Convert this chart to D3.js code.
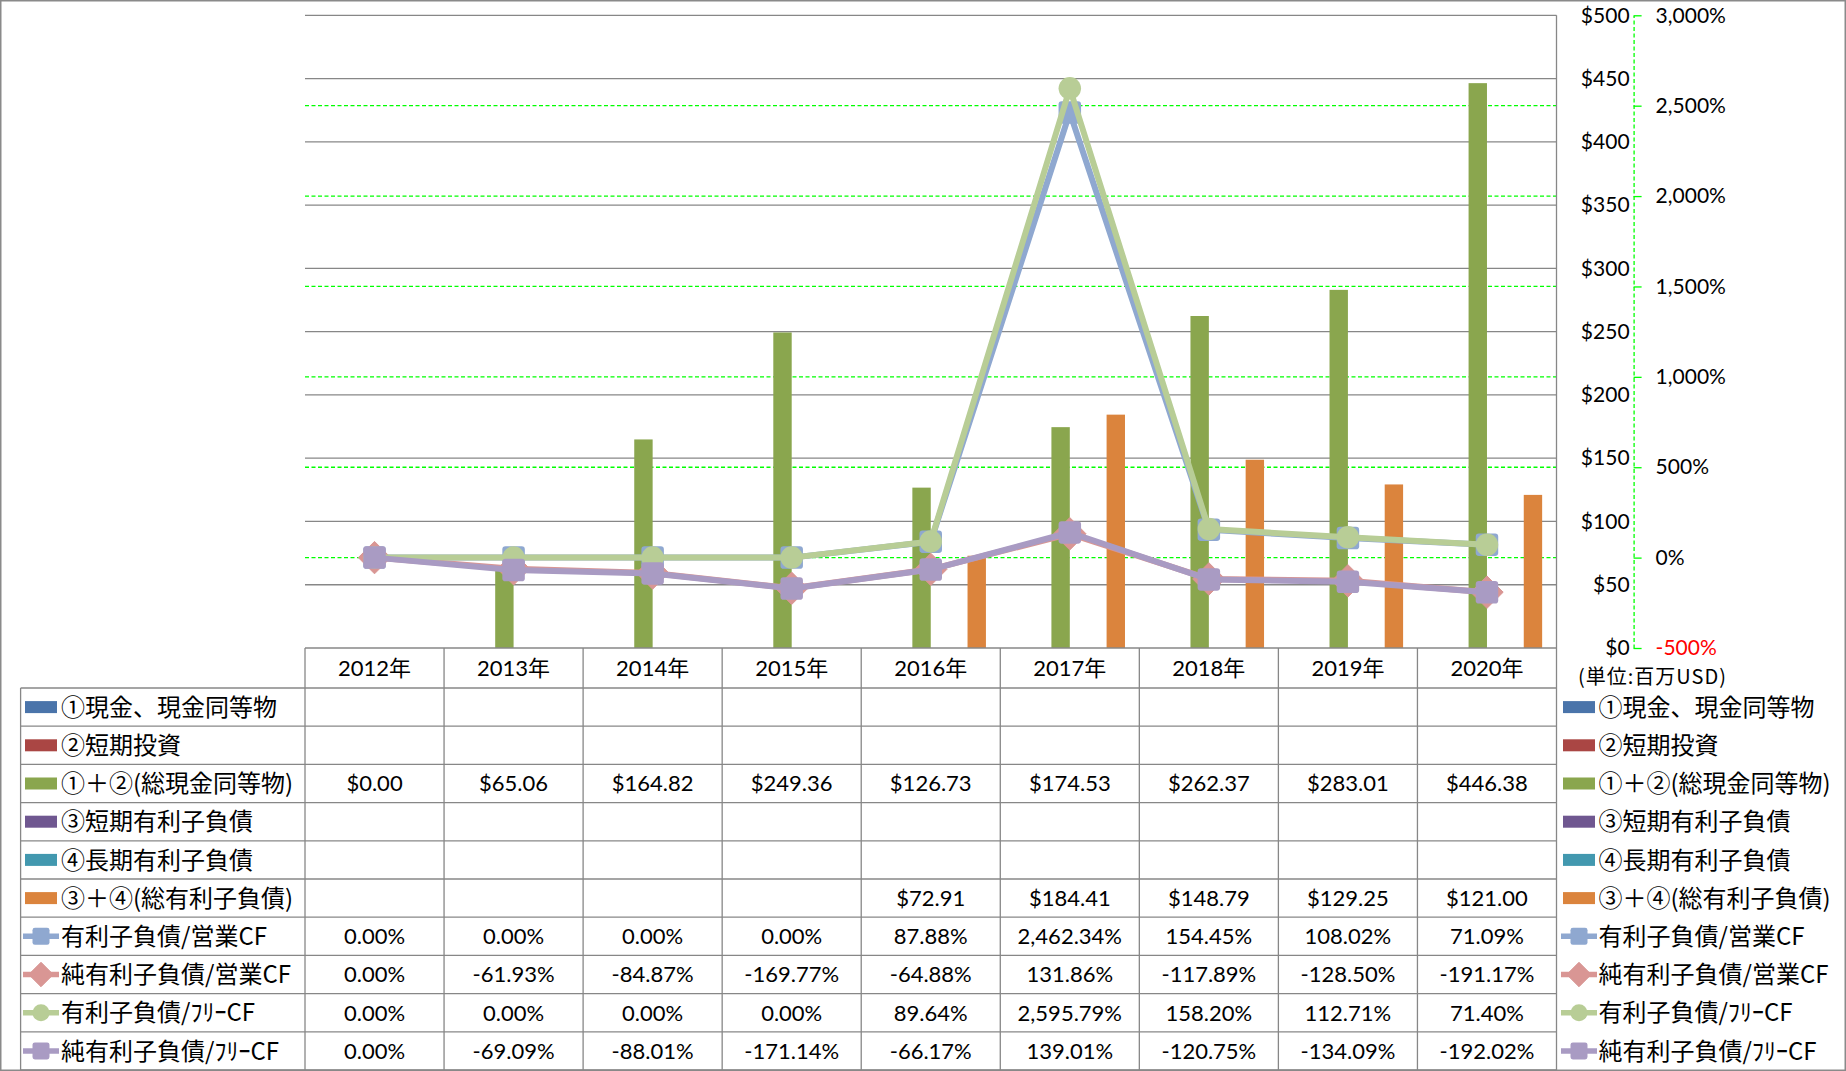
<!DOCTYPE html>
<html>
<head>
<meta charset="utf-8">
<script src="https://cdn.jsdelivr.net/npm/d3@7"></script>
<style>
  html, body { margin: 0; padding: 0; background: #fff; }
  svg { display: block; }
  text { font-family: Lato, "Noto Sans CJK JP", sans-serif; }
  .jp { font-family: "Noto Sans CJK JP", sans-serif; }
</style>
</head>
<body>
<svg id="chart" width="1846" height="1071"></svg>
<script>
// ---------------- DATA ----------------
const years = ["2012年", "2013年", "2014年", "2015年", "2016年", "2017年", "2018年", "2019年", "2020年"];

const barKeys = ["①現金、現金同等物", "②短期投資", "①＋②(総現金同等物)", "③短期有利子負債", "④長期有利子負債", "③＋④(総有利子負債)"];
const cashEq      = [null, null, null, null, null, null, null, null, null];
const shortInvest = [null, null, null, null, null, null, null, null, null];
const totalCash   = [0.00, 65.06, 164.82, 249.36, 126.73, 174.53, 262.37, 283.01, 446.38];
const shortDebt   = [null, null, null, null, null, null, null, null, null];
const longDebt    = [null, null, null, null, null, null, null, null, null];
const totalDebt   = [null, null, null, null, 72.91, 184.41, 148.79, 129.25, 121.00];

const lineKeys = ["有利子負債/営業CF", "純有利子負債/営業CF", "有利子負債/ﾌﾘｰCF", "純有利子負債/ﾌﾘｰCF"];
const debtOpCF    = [0.00, 0.00, 0.00, 0.00, 87.88, 2462.34, 154.45, 108.02, 71.09];
const netDebtOpCF = [0.00, -61.93, -84.87, -169.77, -64.88, 131.86, -117.89, -128.50, -191.17];
const debtFCF     = [0.00, 0.00, 0.00, 0.00, 89.64, 2595.79, 158.20, 112.71, 71.40];
const netDebtFCF  = [0.00, -69.09, -88.01, -171.14, -66.17, 139.01, -120.75, -134.09, -192.02];

const leftTicks = [0, 50, 100, 150, 200, 250, 300, 350, 400, 450, 500];
const rightTicks = [-500, 0, 500, 1000, 1500, 2000, 2500, 3000];
const unitLabel = "(単位:百万USD)";

// ---------------- STYLE / LAYOUT ----------------
const barColors = ["#4A74AA", "#AA4644", "#8AA64E", "#6F5790", "#4298AF", "#DB843D"];
const lineColors = ["#8FA8D0", "#D99694", "#B8CD96", "#A99BC3"];
const markerTypes = ["square", "diamond", "circle", "square"];

const plotL = 305, plotR = 1556.5, plotT = 15.3, plotB = 648;
const tableTop = 688, rowH = 38.2, legL = 20.6;
const axisX = 1633.6;

const fmt = d3.formatLocale({decimal: ".", thousands: ",", grouping: [3], currency: ["$", ""], minus: "-"});
const money = v => "$" + fmt.format(",.2f")(v);
const pct = v => fmt.format(",.2f")(v) + "%";

const svg = d3.select("#chart");

// scales
const x = d3.scaleBand().domain(years).range([plotL, plotR]).paddingInner(0).paddingOuter(0);
const bw = x.bandwidth();
const x1 = d3.scaleBand().domain(barKeys).range([bw * 0.1032, bw * 0.8968]).padding(0);
const yL = d3.scaleLinear().domain([0, 500]).range([plotB, plotT]);
const yR = d3.scaleLinear().domain([-500, 3000]).range([plotB, plotT]);

// outer border
svg.append("rect").attr("x", 0.75).attr("y", 0.75).attr("width", 1844.5).attr("height", 1069.5)
  .attr("fill", "none").attr("stroke", "#8a8a8a").attr("stroke-width", 1.5);

// secondary (green dashed) gridlines
svg.append("g").selectAll("line").data(rightTicks.filter(t => t > -500 && t < 3000)).join("line")
  .attr("x1", plotL).attr("x2", plotR).attr("y1", d => yR(d)).attr("y2", d => yR(d))
  .attr("stroke", "#00ff00").attr("stroke-width", 1.3).attr("stroke-dasharray", "4,2.5");

// primary gridlines
svg.append("g").selectAll("line").data(leftTicks.filter(t => t > 0)).join("line")
  .attr("x1", plotL).attr("x2", plotR).attr("y1", d => yL(d)).attr("y2", d => yL(d))
  .attr("stroke", "#878787").attr("stroke-width", 1.3);

// bars
const barSeries = [cashEq, shortInvest, totalCash, shortDebt, longDebt, totalDebt];
barSeries.forEach((vals, si) => {
  svg.append("g").selectAll("rect").data(vals.map((v, i) => ({v, i})).filter(d => d.v != null)).join("rect")
    .attr("x", d => x(years[d.i]) + x1(barKeys[si]))
    .attr("width", x1.bandwidth())
    .attr("y", d => yL(d.v))
    .attr("height", d => plotB - yL(d.v))
    .attr("fill", barColors[si]);
});

// marker drawer
function marker(g, type, cx, cy, color, s) {
  if (type === "square") {
    g.append("rect").attr("x", cx - s / 2).attr("y", cy - s / 2).attr("width", s).attr("height", s)
      .attr("rx", s * 0.14).attr("fill", color);
  } else if (type === "diamond") {
    const h = s * 0.72;
    g.append("path").attr("d", `M${cx},${cy - h}L${cx + h},${cy}L${cx},${cy + h}L${cx - h},${cy}Z`)
      .attr("fill", color).attr("stroke", color).attr("stroke-width", 1).attr("stroke-linejoin", "round");
  } else {
    g.append("circle").attr("cx", cx).attr("cy", cy).attr("r", s / 2).attr("fill", color);
  }
}

// lines
const lineSeries = [debtOpCF, netDebtOpCF, debtFCF, netDebtFCF];
const lineGen = d3.line().x((d, i) => x(years[i]) + bw / 2).y(d => yR(d));
lineSeries.forEach((vals, si) => {
  const g = svg.append("g");
  g.append("path").attr("d", lineGen(vals)).attr("fill", "none")
    .attr("stroke", lineColors[si]).attr("stroke-width", 6).attr("stroke-linejoin", "round");
  vals.forEach((v, i) => marker(g, markerTypes[si], x(years[i]) + bw / 2, yR(v), lineColors[si], 22.5));
});

// plot right edge
svg.append("line").attr("x1", plotR).attr("x2", plotR).attr("y1", plotT).attr("y2", 1070)
  .attr("stroke", "#878787").attr("stroke-width", 1.3);

// left ($) axis, drawn on the right side
const axL = svg.append("g").attr("transform", `translate(${axisX - 2},0)`)
  .call(d3.axisLeft(yL).tickValues(leftTicks).tickSize(0).tickPadding(2).tickFormat(d => "$" + d));
axL.select(".domain").remove();
axL.selectAll("text").attr("font-size", 21).style("font-family", "Lato, 'Noto Sans CJK JP', sans-serif").style("fill", "#000");

// right (%) axis
const axR = svg.append("g").attr("transform", `translate(${axisX},0)`)
  .call(d3.axisRight(yR).tickValues(rightTicks).tickSize(8).tickSizeOuter(0).tickPadding(14)
    .tickFormat(d => fmt.format(",")(d) + "%"));
axR.select(".domain").attr("stroke", "#00ff00").attr("stroke-width", 1.3).attr("stroke-dasharray", "4,2.5");
axR.selectAll(".tick line").attr("stroke", "#00ff00").attr("stroke-width", 1.3);
axR.selectAll("text").attr("font-size", 21).style("font-family", "Lato, 'Noto Sans CJK JP', sans-serif")
  .style("fill", d => d < 0 ? "#ff0000" : "#000");

// unit label
svg.append("text").attr("class", "jp").attr("x", 1578).attr("y", 677).attr("dy", "0.35em")
  .attr("font-size", 20).attr("letter-spacing", 1).style("fill", "#000").text(unitLabel);

// ---------------- DATA TABLE ----------------
const tg = svg.append("g");
const nRows = 10;
const tableBottom = tableTop + rowH * nRows;
// horizontal lines
tg.append("line").attr("x1", plotL).attr("x2", plotR).attr("y1", plotB).attr("y2", plotB)
  .attr("stroke", "#878787").attr("stroke-width", 1.3);
d3.range(nRows + 1).forEach(r => {
  tg.append("line").attr("x1", legL).attr("x2", plotR).attr("y1", tableTop + r * rowH).attr("y2", tableTop + r * rowH)
    .attr("stroke", "#878787").attr("stroke-width", 1.3);
});
// vertical lines
tg.append("line").attr("x1", legL).attr("x2", legL).attr("y1", tableTop).attr("y2", tableBottom)
  .attr("stroke", "#878787").attr("stroke-width", 1.3);
years.forEach(yv => {
  tg.append("line").attr("x1", x(yv)).attr("x2", x(yv)).attr("y1", plotB).attr("y2", tableBottom)
    .attr("stroke", "#878787").attr("stroke-width", 1.3);
});
// header
tg.selectAll("text.hdr").data(years).join("text").attr("class", "hdr")
  .attr("x", d => x(d) + bw / 2).attr("y", (plotB + tableTop) / 2).attr("dy", "0.35em")
  .attr("text-anchor", "middle").attr("font-size", 22).style("fill", "#000").text(d => d);

// rows
const rows = [
  {label: barKeys[0], vals: cashEq, f: money, kind: "bar", c: 0},
  {label: barKeys[1], vals: shortInvest, f: money, kind: "bar", c: 1},
  {label: barKeys[2], vals: totalCash, f: money, kind: "bar", c: 2},
  {label: barKeys[3], vals: shortDebt, f: money, kind: "bar", c: 3},
  {label: barKeys[4], vals: longDebt, f: money, kind: "bar", c: 4},
  {label: barKeys[5], vals: totalDebt, f: money, kind: "bar", c: 5},
  {label: lineKeys[0], vals: debtOpCF, f: pct, kind: "line", c: 0},
  {label: lineKeys[1], vals: netDebtOpCF, f: pct, kind: "line", c: 1},
  {label: lineKeys[2], vals: debtFCF, f: pct, kind: "line", c: 2},
  {label: lineKeys[3], vals: netDebtFCF, f: pct, kind: "line", c: 3},
];

function legendKey(g, row, x0, cy) {
  if (row.kind === "bar") {
    g.append("rect").attr("x", x0).attr("y", cy - 6).attr("width", 32).attr("height", 12).attr("fill", barColors[row.c]);
  } else {
    g.append("line").attr("x1", x0 - 2).attr("x2", x0 + 34).attr("y1", cy).attr("y2", cy)
      .attr("stroke", lineColors[row.c]).attr("stroke-width", 5.5);
    marker(g, markerTypes[row.c], x0 + 16, cy, lineColors[row.c], 17);
  }
}

rows.forEach((row, r) => {
  const cy = tableTop + rowH * (r + 0.5);
  legendKey(tg, row, 25, cy);
  tg.append("text").attr("class", "jp").attr("x", 61).attr("y", cy).attr("dy", "0.36em")
    .attr("font-size", 24).style("fill", "#000").text(row.label);
  row.vals.forEach((v, i) => {
    if (v == null) return;
    tg.append("text").attr("x", x(years[i]) + bw / 2).attr("y", cy).attr("dy", "0.36em")
      .attr("text-anchor", "middle").attr("font-size", 22).style("fill", "#000").text(row.f(v));
  });
  // right legend
  legendKey(tg, row, 1563, cy);
  tg.append("text").attr("class", "jp").attr("x", 1598.5).attr("y", cy).attr("dy", "0.36em")
    .attr("font-size", 24).style("fill", "#000").text(row.label);
});
</script>
</body>
</html>
